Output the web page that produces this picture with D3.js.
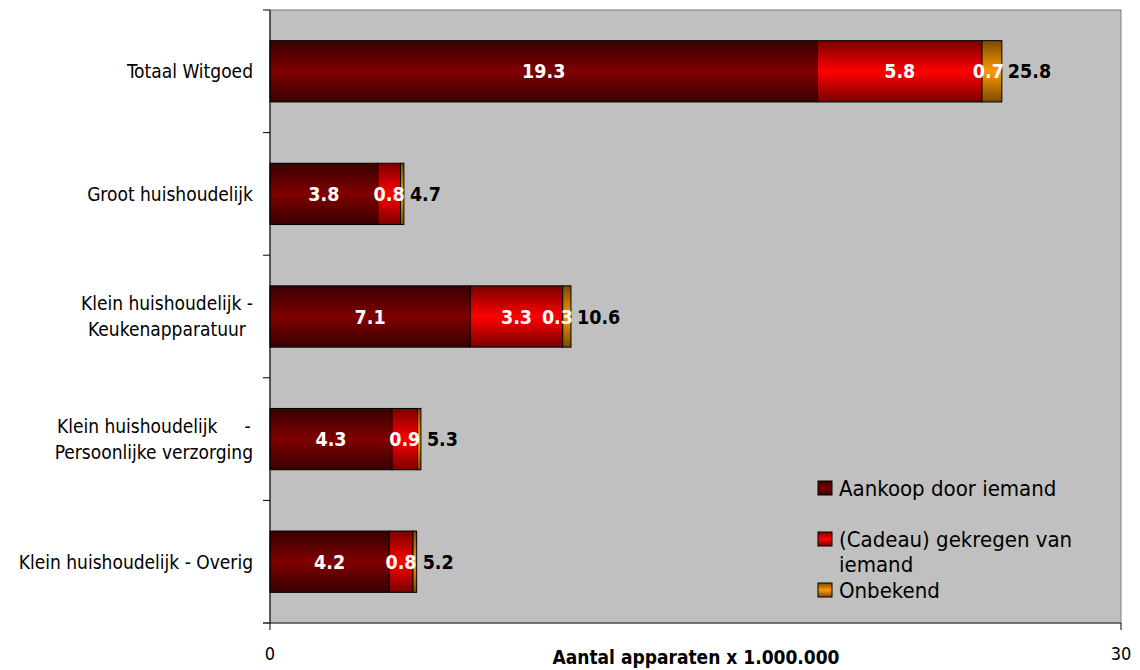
<!DOCTYPE html>
<html><head><meta charset="utf-8">
<script src="https://cdn.jsdelivr.net/npm/d3@7"></script>
<style>
html,body{margin:0;padding:0;background:#fff;}
svg{display:block;}
text{font-family:"DejaVu Sans Condensed","DejaVu Sans",sans-serif;font-stretch:condensed;}
</style></head>
<body>
<svg id="chart" width="1140" height="670"></svg>
<script>
// ---- data ----
const categories = [
  ["Totaal Witgoed"],
  ["Groot huishoudelijk"],
  ["Klein huishoudelijk -", "Keukenapparatuur"],
  ["Klein huishoudelijk     -", "Persoonlijke verzorging"],
  ["Klein huishoudelijk - Overig"]
];
const seriesNames = [
  ["Aankoop door iemand", ""],
  ["(Cadeau) gekregen van", "iemand"],
  ["Onbekend"]
];
const aankoop = [19.3, 3.8, 7.06, 4.3, 4.2];
const cadeau  = [5.8, 0.8, 3.26, 0.9, 0.84];
const onbekend = [0.7, 0.12, 0.29, 0.12, 0.13];
const totalLabels = ["25.8", "4.7", "10.6", "5.3", "5.2"];
const xTickValues = [0, 30];
const xTitle = "Aantal apparaten x 1.000.000";

// ---- layout ----
const svg = d3.select("#chart");
const plot = {left: 270, top: 10, right: 1121, bottom: 623};
const x = d3.scaleLinear().domain([0, 30]).range([plot.left, plot.right]);
const y = d3.scaleBand().domain(d3.range(categories.length))
  .range([plot.top, plot.bottom]).paddingInner(0.5).paddingOuter(0.25);

const colors = [
  {edge:"#380000", mid:"#800000"},
  {edge:"#7a0000", mid:"#ff0000"},
  {edge:"#7a4a00", mid:"#ff9900"}
];
const defs = svg.append("defs");
colors.forEach((c, i) => {
  const g = defs.append("linearGradient").attr("id", "g" + i)
    .attr("x1", 0).attr("y1", 0).attr("x2", 0).attr("y2", 1);
  g.append("stop").attr("offset", "0%").attr("stop-color", c.edge);
  g.append("stop").attr("offset", "50%").attr("stop-color", c.mid);
  g.append("stop").attr("offset", "100%").attr("stop-color", c.edge);
});

// plot area
svg.append("rect").attr("x", plot.left).attr("y", plot.top)
  .attr("width", plot.right - plot.left).attr("height", plot.bottom - plot.top)
  .attr("fill", "#c0c0c0").attr("stroke", "#808080").attr("stroke-width", 1);

// stacked data
const series = [aankoop, cadeau, onbekend];
const rows = categories.map((c, i) => ({i, v: series.map(s => s[i])}));
const stack = d3.stack().keys([0, 1, 2]).value((d, k) => d.v[k]);
const stacked = stack(rows);

stacked.forEach((layer, k) => {
  svg.append("g").selectAll("rect").data(layer).join("rect")
    .attr("x", d => x(d[0]))
    .attr("y", d => y(d.data.i))
    .attr("width", d => x(d[1]) - x(d[0]))
    .attr("height", y.bandwidth())
    .attr("fill", "url(#g" + k + ")")
    .attr("stroke", "#000").attr("stroke-width", 1);
});

const valFont = 19.5;
// total labels
const totals = svg.append("g").selectAll("text").data(stacked[2]).join("text")
  .attr("x", d => x(d[1]) + 6)
  .attr("y", d => y(d.data.i) + y.bandwidth() / 2)
  .attr("dy", "0.36em")
  .attr("fill", "#000").attr("font-weight", "bold").attr("font-size", valFont)
  .text(d => totalLabels[d.data.i]);

// value labels (kept clear of the total label)
stacked.forEach((layer, k) => {
  svg.append("g").selectAll("text").data(layer.filter(d => d[1] - d[0] >= 0.2)).join("text")
    .attr("y", d => y(d.data.i) + y.bandwidth() / 2)
    .attr("dy", "0.36em")
    .attr("text-anchor", "middle")
    .attr("fill", "#fff").attr("font-weight", "bold").attr("font-size", valFont)
    .text(d => d3.format(".1f")(d[1] - d[0]))
    .attr("x", function(d) {
      const w = this.getComputedTextLength();
      const c = (x(d[0]) + x(d[1])) / 2;
      const limit = x(d.data.i === undefined ? 0 : stacked[2][d.data.i][1]) + 6 - 4;
      return Math.min(c, limit - w / 2);
    });
});

// y axis
const step = y.step();
svg.append("line").attr("x1", plot.left).attr("x2", plot.left)
  .attr("y1", plot.top).attr("y2", plot.bottom).attr("stroke", "#000");
d3.range(categories.length + 1).forEach(i => {
  const yy = plot.top + i * step;
  svg.append("line").attr("x1", plot.left - 7).attr("x2", plot.left)
    .attr("y1", yy).attr("y2", yy).attr("stroke", "#000");
});

// category labels
const lineH = 26;
categories.forEach((lines, i) => {
  const g = svg.append("g");
  const cy = y(i) + y.bandwidth() / 2;
  const texts = lines.map((t, j) => g.append("text")
    .attr("y", cy + (j - (lines.length - 1) / 2) * lineH)
    .attr("dy", "0.36em").attr("text-anchor", "middle")
    .attr("font-size", 19).attr("fill", "#000")
    .attr("xml:space", "preserve").style("white-space", "pre").text(t));
  const w = d3.max(texts, t => t.node().getComputedTextLength());
  const cx = 253 - w / 2;
  texts.forEach(t => t.attr("x", cx));
});

// x axis
svg.append("line").attr("x1", plot.left - 7).attr("x2", x(30))
  .attr("y1", plot.bottom).attr("y2", plot.bottom).attr("stroke", "#333");
xTickValues.forEach(v => {
  svg.append("line").attr("x1", x(v)).attr("x2", x(v))
    .attr("y1", plot.bottom).attr("y2", plot.bottom + 7).attr("stroke", "#000");
  svg.append("text").attr("x", x(v)).attr("y", 654).attr("dy", "0.36em")
    .attr("text-anchor", "middle").attr("font-size", 18).text(v);
});
svg.append("text").attr("x", 696).attr("y", 657).attr("dy", "0.36em")
  .attr("text-anchor", "middle").attr("font-size", 19).attr("font-weight", "bold")
  .text(xTitle);

// legend
const legX = 818, legY = 488, legLine = 25.5;
let row = 0;
seriesNames.forEach((lines, k) => {
  const yy = legY + row * legLine;
  svg.append("rect").attr("x", legX).attr("y", yy - 7).attr("width", 14).attr("height", 14)
    .attr("fill", "url(#g" + k + ")").attr("stroke", "#000");
  lines.forEach((t, j) => {
    if (t) svg.append("text").attr("x", legX + 21).attr("y", yy + j * legLine)
      .attr("dy", "0.36em").attr("font-size", 22).attr("fill", "#000").text(t);
  });
  row += lines.length;
});
</script>
</body></html>
